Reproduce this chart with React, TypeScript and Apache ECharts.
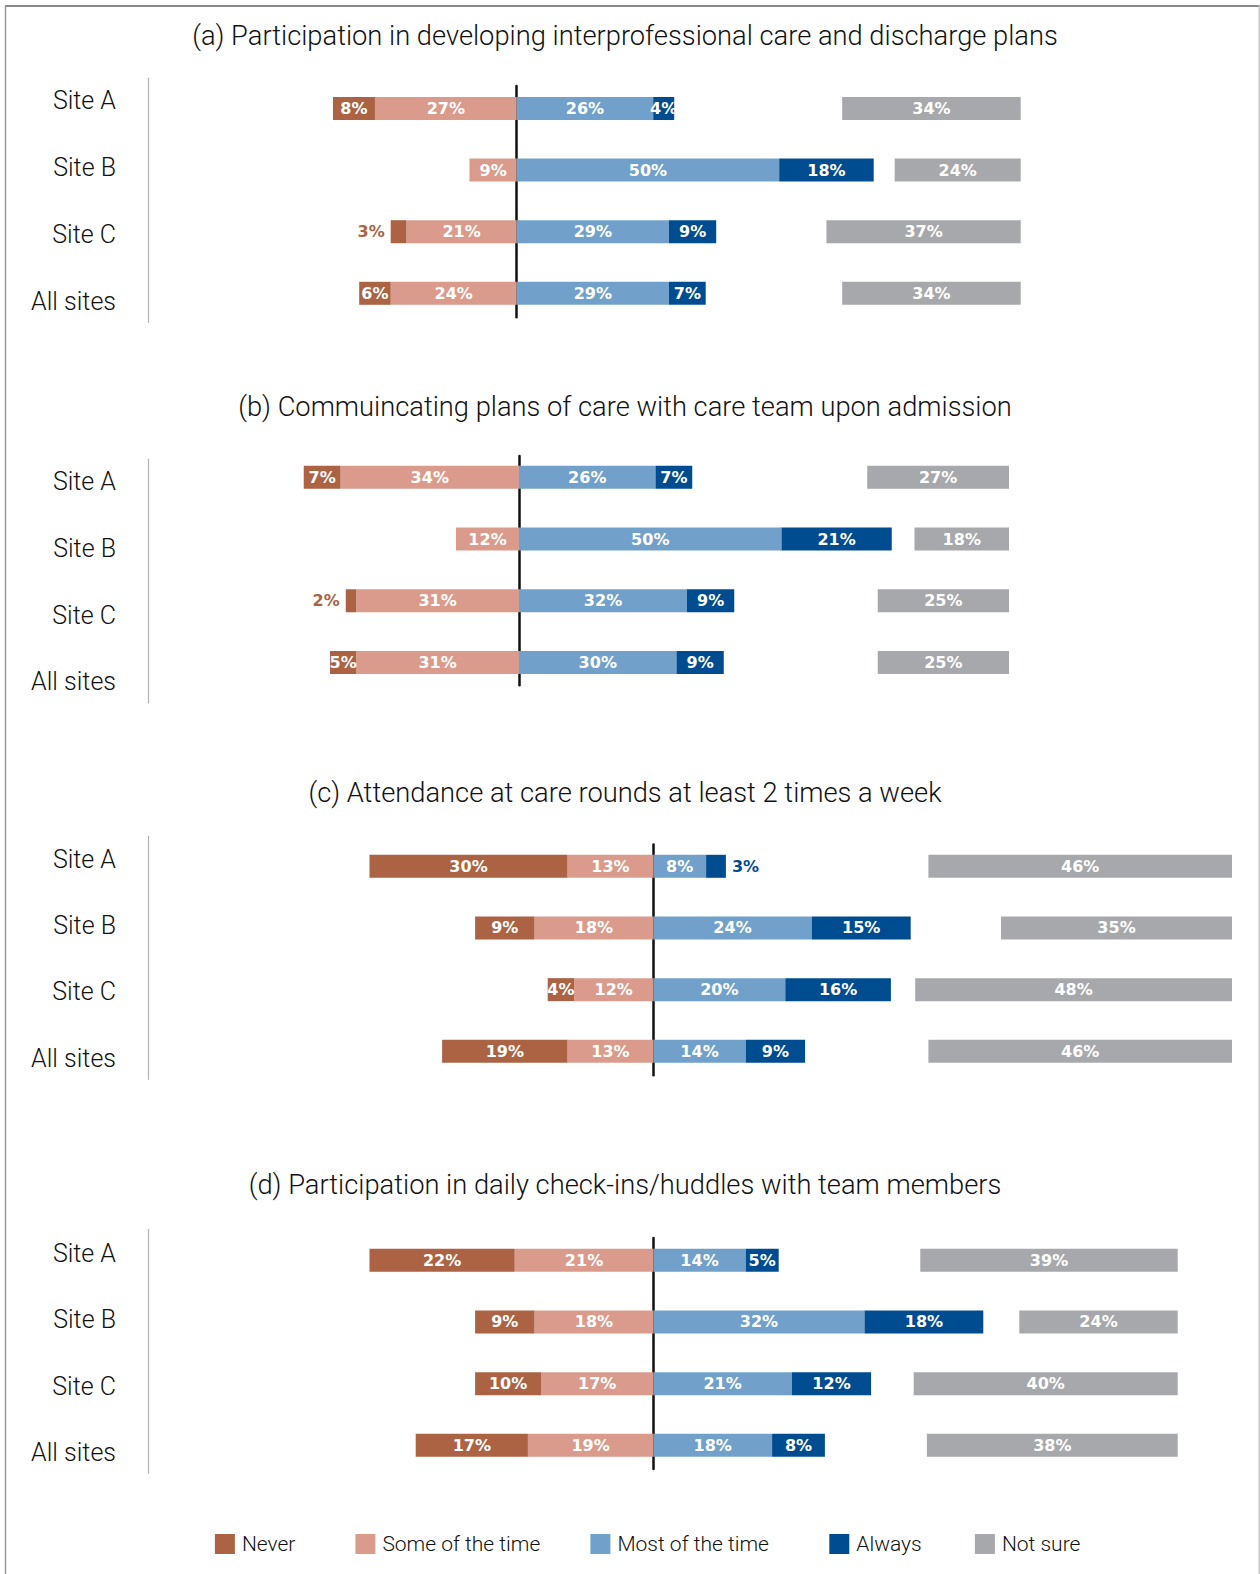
import React, { useEffect, useRef } from 'react';
import * as echarts from 'echarts';

// Row categories shared by every panel (top to bottom)
const sites = ['Site A', 'Site B', 'Site C', 'All sites'];

// Response categories, in legend order
const responses = ['Never', 'Some of the time', 'Most of the time', 'Always', 'Not sure'];

const panelTitles = [
  '(a) Participation in developing interprofessional care and discharge plans',
  '(b) Commuincating plans of care with care team upon admission',
  '(c) Attendance at care rounds at least 2 times a week',
  '(d) Participation in daily check-ins/huddles with team members',
];

// Percentages per site (Site A, Site B, Site C, All sites)
const aNever = [8, 0, 3, 6];
const aSome = [27, 9, 21, 24];
const aMost = [26, 50, 29, 29];
const aAlways = [4, 18, 9, 7];
const aNotSure = [34, 24, 37, 34];

const bNever = [7, 0, 2, 5];
const bSome = [34, 12, 31, 31];
const bMost = [26, 50, 32, 30];
const bAlways = [7, 21, 9, 9];
const bNotSure = [27, 18, 25, 25];

const cNever = [30, 9, 4, 19];
const cSome = [13, 18, 12, 13];
const cMost = [8, 24, 20, 14];
const cAlways = [3, 15, 16, 9];
const cNotSure = [46, 35, 48, 46];

const dNever = [22, 9, 10, 17];
const dSome = [21, 18, 17, 19];
const dMost = [14, 32, 21, 18];
const dAlways = [5, 18, 12, 8];
const dNotSure = [39, 24, 40, 38];

const panelData = [
  { never: aNever, some: aSome, most: aMost, always: aAlways, notSure: aNotSure },
  { never: bNever, some: bSome, most: bMost, always: bAlways, notSure: bNotSure },
  { never: cNever, some: cSome, most: cMost, always: cAlways, notSure: cNotSure },
  { never: dNever, some: dSome, most: dMost, always: dAlways, notSure: dNotSure },
];

// Page geometry (pixels)
const W = 1260;
const H = 1574;
const AXIS_X = 148;

// Per-panel layout: zero line x, right end of the "Not sure" column, scale,
// centres of first/last bar rows and label rows, extents of the two vertical lines.
const panelLayout = [
  { center: 516.7, right: 1020.7, pxPerPct: 5.25, bars: [108.5, 293.3], labels: [100.5, 301.2], rule: [78.3, 322.3], zero: [86, 317.3], titleY: 36 },
  { center: 519, right: 1009, pxPerPct: 5.25, bars: [477.3, 662.5], labels: [481.7, 681.7], rule: [459.3, 702.7], zero: [456, 685.3], titleY: 407.3 },
  { center: 653.3, right: 1232, pxPerPct: 6.6, bars: [866.3, 1051.3], labels: [859, 1058.3], rule: [836, 1079.3], zero: [844.4, 1075.3], titleY: 793.2 },
  { center: 653.3, right: 1177.7, pxPerPct: 6.6, bars: [1260.3, 1445.3], labels: [1253.3, 1452.7], rule: [1229.3, 1473.3], zero: [1238, 1468.9], titleY: 1184.7 },
];

const COLORS = {
  never: '#ab6343',
  some: '#da9b8c',
  most: '#71a1ca',
  always: '#004c91',
  notSure: '#a7a8ab',
};

const TEXT_FONT = "Roboto, 'Liberation Sans', Arial, sans-serif";
const TEXT_WEIGHT = 300;
const VALUE_FONT = "'DejaVu Sans', Verdana, sans-serif";

const legendLeft = [214.9, 355.4, 590.4, 829.3, 974.9];

function rows(first: number, last: number) {
  const band = (last - first) / (sites.length - 1);
  return { top: first - band / 2, height: band * sites.length };
}

function buildOption() {
  const grid: any[] = [];
  const xAxis: any[] = [];
  const yAxis: any[] = [];
  const series: any[] = [];
  const title: any[] = [];

  panelLayout.forEach((p, i) => {
    const d = panelData[i];
    const min = -(p.center - AXIS_X) / p.pxPerPct;
    const max = (p.right - p.center) / p.pxPerPct;
    const base = i * 5;
    const common = { left: AXIS_X, right: W - p.right, containLabel: false, outerBoundsMode: 'none' };
    const barRows = rows(p.bars[0], p.bars[1]);
    const labelRows = rows(p.labels[0], p.labels[1]);

    grid.push({ ...common, top: barRows.top, height: barRows.height }); // diverging bars
    grid.push({ ...common, top: barRows.top, height: barRows.height }); // not sure column
    grid.push({ ...common, top: labelRows.top, height: labelRows.height }); // site labels
    grid.push({ ...common, top: p.rule[0], height: p.rule[1] - p.rule[0] }); // left rule
    grid.push({ ...common, top: p.zero[0], height: p.zero[1] - p.zero[0] }); // zero line

    const hx = (k: number, extra: any) => ({ type: 'value', gridIndex: base + k, show: false, ...extra });
    xAxis.push(hx(0, { min, max }));
    xAxis.push(hx(1, { min: 0, max: max - min, inverse: true }));
    xAxis.push(hx(2, { min: 0, max: 1 }));
    xAxis.push(hx(3, { min: 0, max: 1 }));
    xAxis.push(hx(4, { min, max }));

    const cat = (k: number, extra: any) => ({
      type: 'category',
      gridIndex: base + k,
      data: sites,
      inverse: true,
      axisTick: { show: false },
      axisLabel: { show: false },
      axisLine: { show: false },
      splitLine: { show: false },
      ...extra,
    });
    yAxis.push(cat(0, {}));
    yAxis.push(cat(1, {}));
    yAxis.push(
      cat(2, {
        axisLabel: {
          show: true,
          margin: 32,
          fontSize: 25,
          fontWeight: TEXT_WEIGHT,
          color: '#111111',
          fontFamily: TEXT_FONT,
        },
      })
    );
    yAxis.push(cat(3, { axisLine: { show: true, onZero: false, lineStyle: { color: '#b3b3b3', width: 1.2 } } }));
    yAxis.push(cat(4, { axisLine: { show: true, onZero: true, lineStyle: { color: '#111111', width: 2.5 } } }));

    const valueLabel = {
      show: true,
      position: 'inside',
      color: '#ffffff',
      fontFamily: VALUE_FONT,
      fontSize: 16,
      fontWeight: 'bold',
      formatter: (pp: any) => (pp.value ? Math.abs(pp.value) + '%' : ''),
    };

    const bar = (name: string, vals: number[], color: string, sign: number, k: number, outside?: string) => ({
      type: 'bar',
      name,
      xAxisIndex: base + k,
      yAxisIndex: base + k,
      stack: k === 0 ? 'panel' + i : undefined,
      barWidth: 23,
      silent: true,
      itemStyle: { color },
      label: valueLabel,
      data: vals.map((v) =>
        outside && v > 0 && v < 4
          ? { value: sign * v, label: { position: outside, color, distance: 6 } }
          : { value: sign * v }
      ),
    });

    // negative side stacks outward from zero: "Some of the time" first, then "Never"
    series.push(bar(responses[1], d.some, COLORS.some, -1, 0));
    series.push(bar(responses[0], d.never, COLORS.never, -1, 0, 'left'));
    series.push(bar(responses[2], d.most, COLORS.most, 1, 0));
    series.push(bar(responses[3], d.always, COLORS.always, 1, 0, 'right'));
    series.push(bar(responses[4], d.notSure, COLORS.notSure, 1, 1));

    title.push({
      text: panelTitles[i],
      left: 625,
      top: p.titleY - 13.7,
      textAlign: 'center',
      padding: 0,
      textStyle: { fontFamily: TEXT_FONT, fontSize: 27.3, fontWeight: TEXT_WEIGHT, color: '#111111' },
    });
  });

  const legend = responses.map((name, j) => ({
    data: [name],
    left: legendLeft[j],
    top: 1533.5,
    padding: 0,
    itemWidth: 20,
    itemHeight: 20,
    itemGap: 0,
    icon: 'rect',
    selectedMode: false,
    textStyle: {
      fontFamily: TEXT_FONT,
      fontSize: 21,
      fontWeight: TEXT_WEIGHT,
      color: '#111111',
      padding: [0, 0, 0, 2],
    },
  }));

  return {
    animation: false,
    backgroundColor: '#ffffff',
    textStyle: { fontFamily: TEXT_FONT },
    title,
    legend,
    grid,
    xAxis,
    yAxis,
    series,
    graphic: [
      { type: 'line', shape: { x1: 5, y1: 6, x2: 1259.5, y2: 6 }, style: { stroke: '#8a8a8a', lineWidth: 2 } },
      { type: 'line', shape: { x1: 5.5, y1: 6, x2: 5.5, y2: H }, style: { stroke: '#9a9a9a', lineWidth: 1.5 } },
      { type: 'line', shape: { x1: 1259.3, y1: 6, x2: 1259.3, y2: H }, style: { stroke: '#c4c4c4', lineWidth: 1.5 } },
    ],
  };
}

export default function App() {
  const ref = useRef<HTMLDivElement>(null);

  useEffect(() => {
    document.body.style.margin = '0';
    const chart = echarts.init(ref.current as HTMLDivElement, null, { renderer: 'svg' });
    chart.setOption(buildOption() as any);
    return () => {
      chart.dispose();
    };
  }, []);

  return <div ref={ref} style={{ width: W, height: H }} />;
}
